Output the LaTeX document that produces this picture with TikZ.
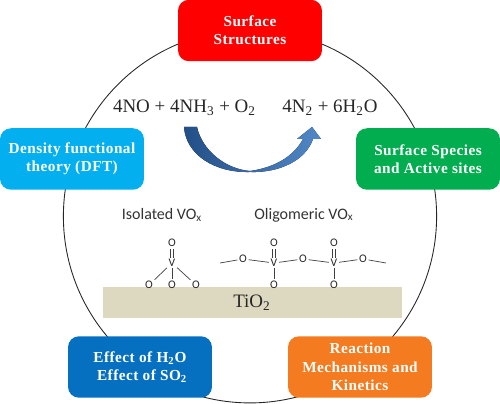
\documentclass[tikz,border=0pt]{standalone}
\usepackage{fontspec}
\setmainfont{Liberation Serif}
\newfontfamily\labelfont{Carlito}
\newfontfamily\boxfont[LetterSpace=3]{Liberation Serif}
\usetikzlibrary{positioning}
\definecolor{surfred}{HTML}{FE0000}
\definecolor{dftblue}{HTML}{04AFF0}
\definecolor{speciesgreen}{HTML}{02AD50}
\definecolor{effectblue}{HTML}{0570C0}
\definecolor{kineticsorange}{HTML}{F47B20}
\definecolor{supportbeige}{HTML}{DDD8C0}
\definecolor{arrowdark}{HTML}{234F87}
\definecolor{arrowlight}{HTML}{5288C8}
\tikzstyle{topic} = [rectangle, text=white, minimum width=2.88cm, minimum height=1.23cm, inner sep=0pt, rounded corners=0.22cm, align=center, font=\boxfont\bfseries\fontsize{8.7}{10.4}\selectfont]
\tikzstyle{atom} = [inner sep=0.8pt, font=\labelfont\fontsize{6.6}{6.6}\selectfont, text=black!85]
\tikzstyle{bond} = [black!75, line width=0.4pt]
\tikzstyle{dbond} = [black!75, line width=0.35pt, double, double distance=1.1pt]
\tikzstyle{formula} = [font=\fontsize{10.8}{12}\selectfont, text=black!85]
\tikzstyle{oxlabel} = [font=\labelfont\fontsize{9.1}{10}\selectfont, text=black!80]
\begin{document}
\begin{tikzpicture}[x=0.02cm, y=-0.02cm]
    \useasboundingbox (0,0) rectangle (500,404);

    % ring behind the topics
    \draw [black!85, line width=0.5pt] (250,216.3) circle (3.733cm);

    \node (surface) [topic, fill=surfred] at (250,30.5) {Surface\\Structures};
    \node (dft) [topic, fill=dftblue] at (72,159) {Density functional\\theory (DFT)};
    \node (species) [topic, fill=speciesgreen] at (428,159) {Surface Species\\and Active sites};
    \node (effect) [topic, fill=effectblue] at (140,367) {Effect of H\textsubscript{2}O\\\ Effect of SO\textsubscript{2}};
    \node (kinetics) [topic, fill=kineticsorange] at (360,367) {Reaction\\Mechanisms and\\Kinetics};

    % reaction
    \node (reactants) [formula] at (184.5,108) {4NO + 4NH\textsubscript{3} + O\textsubscript{2}};
    \node (products) [formula] at (330,108) {4N\textsubscript{2} + 6H\textsubscript{2}O};
    \fill [left color=arrowdark, right color=arrowlight]
        (184,127) -- (197,127) .. controls (202,150) and (225,169) .. (250,171)
        .. controls (272,168) and (293,158) .. (303,139) -- (297,139) -- (312,127) -- (321,139) -- (313,139)
        .. controls (306,160) and (280,173) .. (250,172)
        .. controls (215,173) and (186,155) .. (184,127) -- cycle;

    % support
    \fill [supportbeige] (103,287) rectangle (402,318);
    \node (tio) [formula] at (252,303) {TiO\textsubscript{2}};
    \node (isolated) [oxlabel] at (162,215) {Isolated VO\textsubscript{x}};
    \node (oligomeric) [oxlabel] at (304,215) {Oligomeric VO\textsubscript{x}};

    % isolated site
    \node (v0) [atom] at (172,263) {V};
    \node (o0t) [atom] at (172,243) {O};
    \node (o0l) [atom] at (149,285) {O};
    \node (o0b) [atom] at (172,285) {O};
    \node (o0r) [atom] at (196,285) {O};
    \draw [dbond] (v0) -- (o0t);
    \foreach \o in {o0l, o0b, o0r}
        \draw [bond] (v0) -- (\o);

    % oligomeric site
    \node (v1) [atom] at (274,263) {V};
    \node (v2) [atom] at (334,263) {V};
    \node (o1t) [atom] at (274,243) {O};
    \node (o2t) [atom] at (334,243) {O};
    \node (o1b) [atom] at (274,285) {O};
    \node (o2b) [atom] at (334,285) {O};
    \node (ol) [atom] at (243,259) {O};
    \node (om) [atom] at (303,259) {O};
    \node (or) [atom] at (363,259) {O};
    \coordinate (endl) at (220,263);
    \coordinate (endr) at (386,263);
    \draw [dbond] (v1) -- (o1t);
    \draw [dbond] (v2) -- (o2t);
    \draw [bond] (v1) -- (o1b);
    \draw [bond] (v2) -- (o2b);
    \draw [bond] (endl) -- (ol);
    \draw [bond] (ol) -- (v1);
    \draw [bond] (v1) -- (om);
    \draw [bond] (om) -- (v2);
    \draw [bond] (v2) -- (or);
    \draw [bond] (or) -- (endr);
\end{tikzpicture}
\end{document}
